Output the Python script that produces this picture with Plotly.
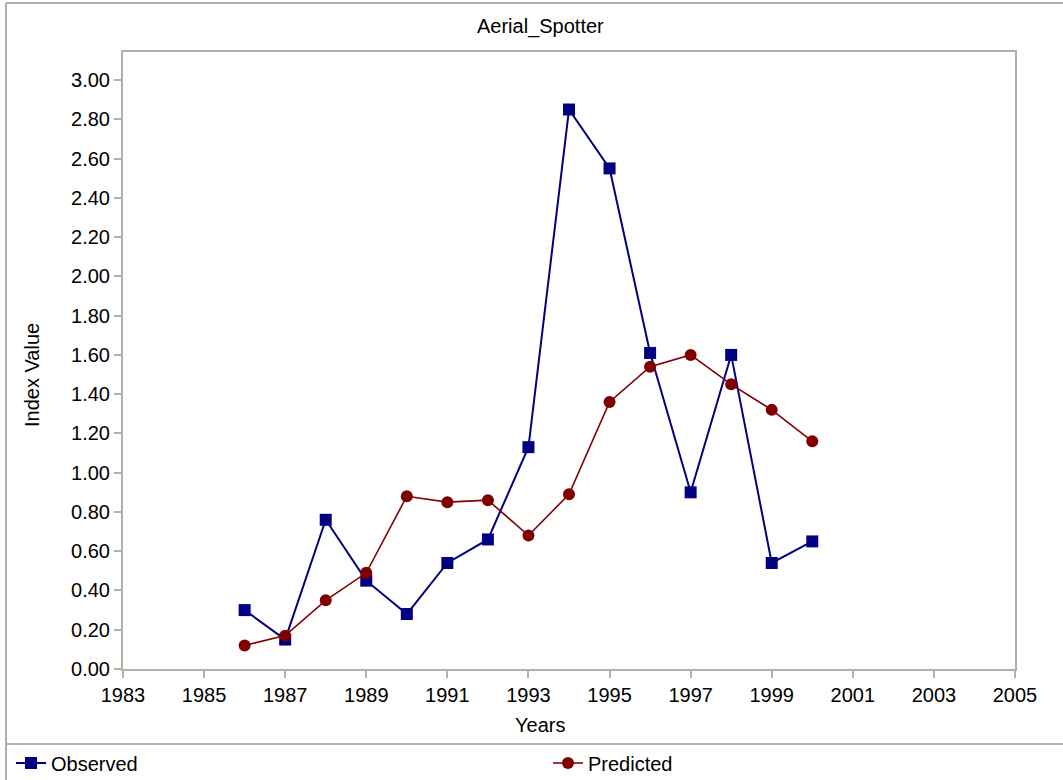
import plotly.graph_objects as go

years = [1986, 1987, 1988, 1989, 1990, 1991, 1992, 1993, 1994, 1995, 1996, 1997, 1998, 1999, 2000]
observed = [0.30, 0.15, 0.76, 0.45, 0.28, 0.54, 0.66, 1.13, 2.85, 2.55, 1.61, 0.90, 1.60, 0.54, 0.65]
predicted = [0.12, 0.17, 0.35, 0.49, 0.88, 0.85, 0.86, 0.68, 0.89, 1.36, 1.54, 1.60, 1.45, 1.32, 1.16]
y_ticks = [round(0.2 * i, 2) for i in range(16)]
x_ticks = list(range(1983, 2006, 2))

W, H = 1063, 780
L, R, T, B = 123, 48, 52, 111
PW, PH = W - L - R, H - T - B

def px(x):
    return (x - L) / PW

def py(y):
    return (H - B - y) / PH

GRAY = "#b3b1a5"
FONT = "Liberation Sans, Arial, sans-serif"
FS = 20

fig = go.Figure()
fig.add_trace(go.Scatter(
    x=years, y=observed, name="Observed", mode="lines+markers", legend="legend",
    line=dict(color="#000080", width=2),
    marker=dict(symbol="square", size=12, color="#000080"),
))
fig.add_trace(go.Scatter(
    x=years, y=predicted, name="Predicted", mode="lines+markers", legend="legend2",
    line=dict(color="#800000", width=1.6),
    marker=dict(symbol="circle", size=12, color="#800000"),
))

leg_common = dict(
    orientation="h", xref="container", yref="container",
    xanchor="left", yanchor="middle", font=dict(size=FS),
    bgcolor="rgba(0,0,0,0)", itemwidth=30,
)

fig.update_layout(
    width=W, height=H,
    margin=dict(l=L, r=R, t=T, b=B, autoexpand=False),
    paper_bgcolor="white", plot_bgcolor="white",
    font=dict(family=FONT, size=FS, color="black"),
    showlegend=True,
    legend=dict(x=11 / W, y=1 - 763 / H, **leg_common),
    legend2=dict(x=548 / W, y=1 - 763 / H, **leg_common),
    xaxis=dict(
        range=[1983, 2005], tickvals=x_ticks, ticktext=[str(v) for v in x_ticks],
        showgrid=False, zeroline=False, showline=True, linecolor=GRAY, linewidth=2,
        mirror=True, ticks="outside", ticklen=7, tickcolor=GRAY, tickwidth=2,
        tickfont=dict(size=FS),
    ),
    yaxis=dict(
        range=[0, 3.143], tickvals=y_ticks, ticktext=[f"{v:.2f}" for v in y_ticks],
        showgrid=False, zeroline=False, showline=True, linecolor=GRAY, linewidth=2,
        mirror=True, ticks="outside", ticklen=7, tickcolor=GRAY, tickwidth=2,
        tickfont=dict(size=FS),
    ),
    annotations=[
        dict(text="Aerial_Spotter", x=px(540), y=py(27), xref="paper", yref="paper",
             showarrow=False, font=dict(size=FS), xanchor="center", yanchor="middle"),
        dict(text="Years", x=px(540), y=py(725), xref="paper", yref="paper",
             showarrow=False, font=dict(size=FS), xanchor="center", yanchor="middle"),
        dict(text="Index Value", x=px(32), y=py(375), xref="paper", yref="paper",
             showarrow=False, font=dict(size=FS), textangle=-90,
             xanchor="center", yanchor="middle"),
    ],
    shapes=[
        dict(type="line", xref="paper", yref="paper", x0=px(6), x1=px(1070),
             y0=py(3), y1=py(3), line=dict(color=GRAY, width=2)),
        dict(type="line", xref="paper", yref="paper", x0=px(6), x1=px(6),
             y0=py(3), y1=py(790), line=dict(color=GRAY, width=2)),
        dict(type="line", xref="paper", yref="paper", x0=px(6), x1=px(1070),
             y0=py(744), y1=py(744), line=dict(color=GRAY, width=2)),
    ],
)

fig.write_html(
    "out.html",
    config={"displayModeBar": False},
    post_script="document.body.style.margin='0';document.body.style.overflow='hidden';",
)
